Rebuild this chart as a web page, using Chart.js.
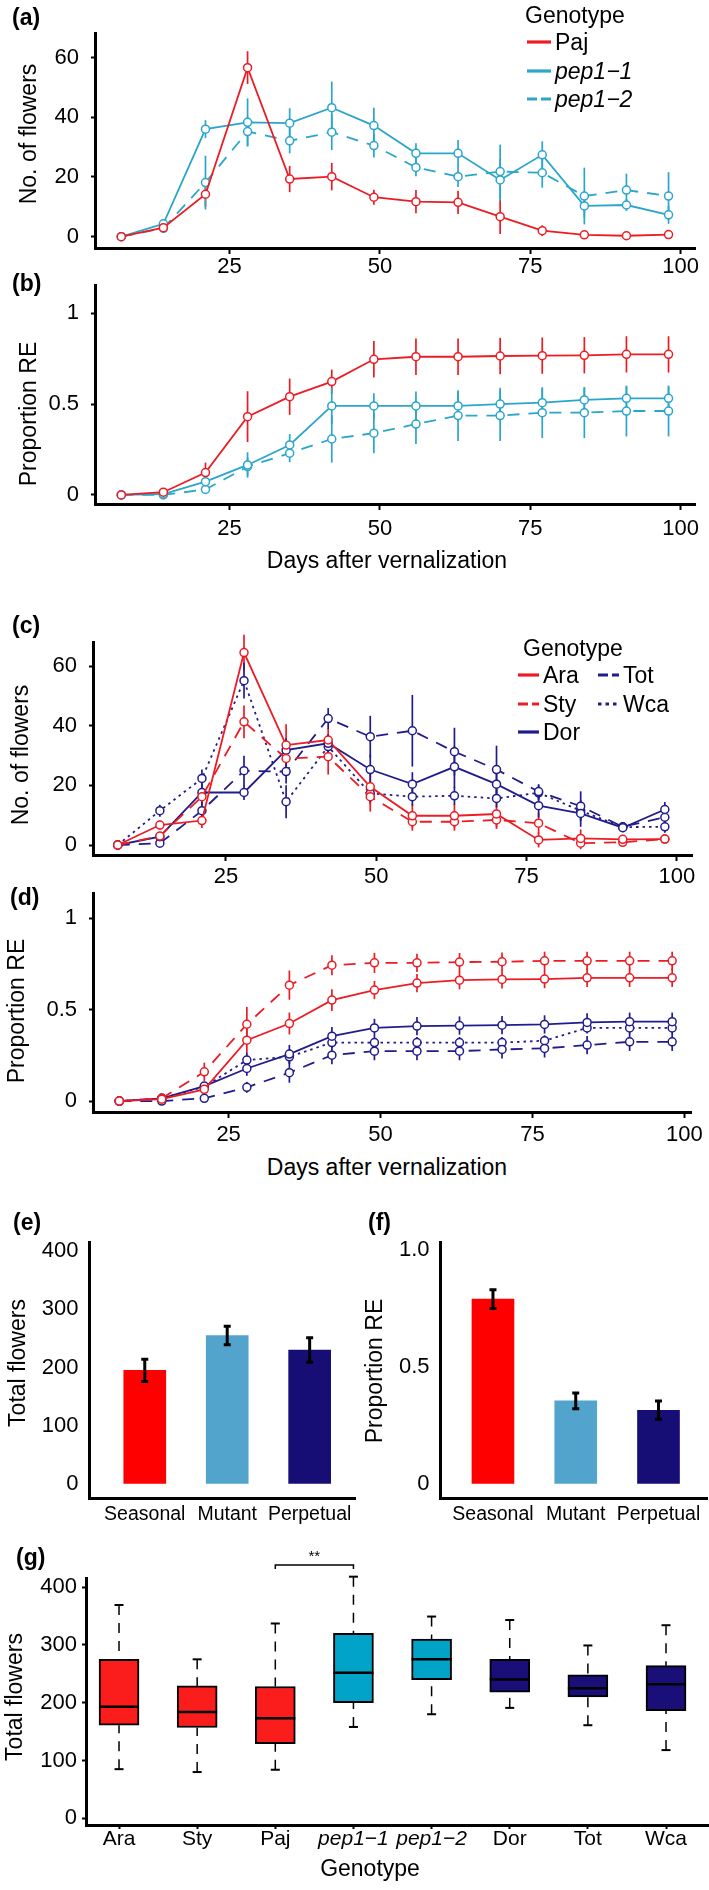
<!DOCTYPE html>
<html>
<head>
<meta charset="utf-8">
<title>Flowering of seasonal, mutant and perpetual genotypes</title>
<script src="https://cdn.jsdelivr.net/npm/chart.js@4.4.1/dist/chart.umd.min.js"></script>
<style>
  html, body { margin: 0; padding: 0; background: #fff; overflow: hidden; }
  #fig { position: relative; width: 709px; height: 1890px; font-family: 'Liberation Sans', Arial, Helvetica, sans-serif; color: #000; }
  #fig canvas { position: absolute; }
  .txt { position: absolute; white-space: nowrap; font-size: 23px; line-height: 26px; }
  .letter { font-weight: bold; }
  .ytitle { transform: translate(-50%, -50%) rotate(-90deg); }
  .xtitle { transform: translate(-50%, -50%); }
</style>
</head>
<body>
<div id="fig"></div>
<script>
// ---- data ----
const days = [7, 14, 21, 28, 35, 42, 49, 56, 63, 70, 77, 84, 91, 98];
const dayTicks = [25, 50, 75, 100];
const flowerTicks = [0, 20, 40, 60];
const propTicks = [0, 0.5, 1];

// (a) flowers per census, seasonal Paj vs pep1 mutants
const pajFlw     = [0, 3, 14.2, 56.6, 19.3, 20.1, 13.2, 11.7, 11.5, 6.7, 2, 0.6, 0.3, 0.7];
const pajFlwSe   = [0.3, 0.6, 4.2, 5.5, 4.4, 4.6, 2.5, 3.9, 3.9, 5.8, 1.8, 1, 0.5, 0.5];
const pep11Flw   = [0, 4.3, 36, 38.3, 38, 43.2, 37.2, 27.9, 27.9, 19, 27.4, 10.3, 10.6, 7.3];
const pep11FlwSe = [0.2, 1, 3, 8, 5, 8.7, 6, 3.4, 4.5, 7, 4.5, 4, 2, 3];
const pep12Flw   = [0, 2.8, 18.1, 35.2, 32.1, 35, 30.5, 23.2, 20.1, 21.8, 21.4, 13.6, 15.6, 13.6];
const pep12FlwSe = [0.2, 1, 9, 5, 4.2, 6, 4, 3, 3.5, 9, 5, 9.5, 5.5, 8];

// (b) proportion RE
const pajRE     = [0, 0.015, 0.123, 0.431, 0.541, 0.624, 0.747, 0.761, 0.761, 0.765, 0.767, 0.769, 0.774, 0.774];
const pajRESe   = [0, 0.01, 0.055, 0.14, 0.1, 0.066, 0.1, 0.1, 0.1, 0.1, 0.1, 0.1, 0.1, 0.1];
const pep11RE   = [0, 0.005, 0.073, 0.165, 0.275, 0.49, 0.49, 0.49, 0.49, 0.5, 0.508, 0.523, 0.532, 0.532];
const pep11RESe = [0, 0.005, 0.02, 0.07, 0.06, 0.1, 0.07, 0.08, 0.08, 0.09, 0.08, 0.07, 0.065, 0.065];
const pep12RE   = [0, 0, 0.03, 0.156, 0.23, 0.308, 0.34, 0.39, 0.437, 0.437, 0.453, 0.453, 0.462, 0.462];
const pep12RESe = [0, 0, 0.02, 0.05, 0.05, 0.13, 0.11, 0.11, 0.14, 0.14, 0.14, 0.14, 0.14, 0.14];

// (c) flowers per census, natural accessions
const araFlw   = [0, 6.7, 8.2, 64.5, 33.5, 35.2, 19.5, 9.8, 9.8, 10.4, 1.7, 2.2, 1.9, 2.0];
const araFlwSe = [0.2, 1.5, 2.5, 6, 7, 4, 6, 4, 4, 4.5, 2.5, 3, 1, 1];
const styFlw   = [0, 3, 16.2, 41.3, 29.0, 29.6, 16.2, 7.8, 7.8, 8.4, 7.3, 0.6, 0.9, 2.0];
const styFlwSe = [0.2, 1, 3, 5.5, 4, 6, 5, 3, 3, 3, 3.5, 2, 1, 1];
const dorFlw   = [0, 2.8, 17.6, 17.6, 31.8, 34.1, 25.3, 20.4, 26.2, 20.4, 13.2, 10.6, 5.8, 11.9];
const dorFlwSe = [0.2, 1, 3, 2.5, 4, 3, 5, 4, 7, 4, 4, 4.5, 1.5, 2.5];
const totFlw   = [0, 0.6, 11.5, 24.9, 24.6, 42.4, 36.3, 38.3, 31.3, 25.3, 17.9, 13, 6.1, 9.3];
const totFlwSe = [0.2, 1, 3, 5, 4, 3.5, 7, 12, 8, 8, 2.5, 5, 1.5, 2];
const wcaFlw   = [0, 11.5, 22.3, 55.1, 14.5, 33, 17.3, 16.2, 16.5, 15.6, 17.5, 11.5, 6, 6.1];
const wcaFlwSe = [0.2, 2, 3, 6, 5.5, 4, 3, 3, 3, 3, 2.5, 3, 1.5, 2];

// (d) proportion RE, natural accessions
const araRE   = [0, 0.01, 0.064, 0.333, 0.424, 0.552, 0.607, 0.645, 0.661, 0.665, 0.667, 0.674, 0.674, 0.674];
const araRESe = [0, 0.01, 0.02, 0.07, 0.06, 0.06, 0.05, 0.05, 0.05, 0.05, 0.05, 0.05, 0.05, 0.05];
const styRE   = [0, 0.015, 0.16, 0.42, 0.634, 0.743, 0.756, 0.756, 0.76, 0.762, 0.767, 0.767, 0.767, 0.767];
const styRESe = [0, 0.01, 0.05, 0.095, 0.08, 0.055, 0.055, 0.05, 0.05, 0.05, 0.05, 0.05, 0.05, 0.05];
const dorRE   = [0, 0.015, 0.082, 0.178, 0.257, 0.355, 0.40, 0.41, 0.413, 0.415, 0.419, 0.43, 0.434, 0.434];
const dorRESe = [0, 0.01, 0.02, 0.04, 0.05, 0.05, 0.05, 0.05, 0.05, 0.05, 0.05, 0.05, 0.05, 0.05];
const totRE   = [0, 0, 0.015, 0.075, 0.155, 0.251, 0.273, 0.273, 0.273, 0.282, 0.288, 0.306, 0.324, 0.324];
const totRESe = [0, 0, 0.02, 0.03, 0.055, 0.05, 0.05, 0.05, 0.05, 0.05, 0.05, 0.05, 0.05, 0.05];
const wcaRE   = [0, 0.015, 0.078, 0.224, 0.242, 0.32, 0.32, 0.32, 0.32, 0.32, 0.33, 0.40, 0.40, 0.40];
const wcaRESe = [0, 0.01, 0.02, 0.04, 0.04, 0.03, 0.03, 0.03, 0.03, 0.03, 0.03, 0.03, 0.03, 0.03];

// (e), (f) group means
const groupNames = ['Seasonal', 'Mutant', 'Perpetual'];
const totalMean = [195, 255, 230];
const totalSe = [19, 16, 21];
const totalTicks = [0, 100, 200, 300, 400];
const reMean = [0.79, 0.355, 0.315];
const reSe = [0.04, 0.034, 0.039];
const reTicks = [0, 0.5, 1];

// (g) total flowers per genotype
const genotypes = ['Ara', 'Sty', 'Paj', 'pep1\u22121', 'pep1\u22122', 'Dor', 'Tot', 'Wca'];
const boxMin = [85, 80, 84, 158, 180, 191, 161, 118];
const boxQ1  = [161, 157, 129, 200, 240, 218, 210, 186];
const boxMed = [193, 184, 173, 252, 275, 240, 225, 232];
const boxQ3  = [275, 229, 228, 320, 310, 275, 248, 264];
const boxMax = [369, 275, 337, 418, 349, 343, 299, 334];
const sigPair = ['Paj', 'pep1\u22121'];
const sigText = '**';

// ---- styling ----
const RED = '#ec1c24', CYAN = '#2aa6ca', NAVY = '#211c8c';
const dashes = { solid: [], dash: [12, 9], dot: [2.5, 4] };
const groupColors = ['#fe0000', '#52a4cc', '#170e75'];
const boxColors = ['#fb1c1c', '#fb1c1c', '#fb1c1c', '#02a3c9', '#02a3c9', '#1a0f78', '#1a0f78', '#1a0f78'];

Chart.defaults.font.family = "'Liberation Sans', Arial, Helvetica, sans-serif";
Chart.defaults.color = '#000';

const fig = document.getElementById('fig');

function makeCanvas(left, top, w, h) {
  const c = document.createElement('canvas');
  c.width = w; c.height = h;
  c.style.left = left + 'px'; c.style.top = top + 'px';
  c.style.width = w + 'px'; c.style.height = h + 'px';
  fig.appendChild(c);
  return c;
}

function addText(t, x, y, cls, extra) {
  const d = document.createElement('div');
  d.className = 'txt ' + (cls || '');
  d.textContent = t;
  d.style.left = x + 'px';
  d.style.top = y + 'px';
  if (extra) Object.assign(d.style, extra);
  fig.appendChild(d);
}

function addKey(x, y, w, col, dasharray) {
  const ns = 'http://www.w3.org/2000/svg';
  const s = document.createElementNS(ns, 'svg');
  s.setAttribute('width', w); s.setAttribute('height', 6);
  s.style.position = 'absolute'; s.style.left = x + 'px'; s.style.top = (y - 3) + 'px';
  const l = document.createElementNS(ns, 'line');
  l.setAttribute('x1', 0); l.setAttribute('y1', 3); l.setAttribute('x2', w); l.setAttribute('y2', 3);
  l.setAttribute('stroke', col); l.setAttribute('stroke-width', 3.2);
  if (dasharray) l.setAttribute('stroke-dasharray', dasharray);
  s.appendChild(l);
  fig.appendChild(s);
}

function axis(o) {
  return {
    type: 'linear', min: o.min, max: o.max, offset: false,
    afterBuildTicks: s => { s.ticks = o.ticks.map(v => ({ value: v })); },
    afterFit: s => { if (s.isHorizontal()) s.height = o.size; else s.width = o.size; },
    border: { display: true, color: '#000', width: 3 },
    grid: { display: true, offset: false, drawOnChartArea: false, drawTicks: o.tl > 0, tickLength: o.tl || 0, tickWidth: 2, tickColor: '#000' },
    ticks: { padding: o.pad, font: o.font || { size: 22 }, color: '#000', autoSkip: false, maxRotation: 0,
             callback: o.fmt || (v => String(v)) }
  };
}

// vertical error bars under the lines
const seBars = {
  id: 'seBars',
  beforeDatasetsDraw(chart) {
    const { ctx, scales: { y } } = chart;
    chart.data.datasets.forEach((ds, di) => {
      const meta = chart.getDatasetMeta(di);
      ctx.save();
      ctx.strokeStyle = ds.borderColor;
      ctx.lineWidth = 1.7;
      meta.data.forEach((pt, i) => {
        const v = ds.data[i].y, e = ds.err[i];
        if (!e) return;
        ctx.beginPath();
        ctx.moveTo(pt.x, y.getPixelForValue(v + e));
        ctx.lineTo(pt.x, y.getPixelForValue(v - e));
        ctx.stroke();
      });
      ctx.restore();
    });
  }
};

// capped error bars on top of the bars
const capBars = {
  id: 'capBars',
  afterDatasetsDraw(chart) {
    const { ctx, scales: { y } } = chart;
    const ds = chart.data.datasets[0];
    const meta = chart.getDatasetMeta(0);
    ctx.save();
    ctx.strokeStyle = '#000';
    ctx.lineWidth = 3;
    meta.data.forEach((bar, i) => {
      const v = ds.data[i].y, e = ds.err[i];
      const t = y.getPixelForValue(v + e), b = y.getPixelForValue(v - e);
      ctx.beginPath();
      ctx.moveTo(bar.x, t); ctx.lineTo(bar.x, b);
      ctx.moveTo(bar.x - 3.5, t); ctx.lineTo(bar.x + 3.5, t);
      ctx.moveTo(bar.x - 3.5, b); ctx.lineTo(bar.x + 3.5, b);
      ctx.stroke();
    });
    ctx.restore();
  }
};

function seg(ctx, x1, y1, x2, y2) {
  ctx.beginPath(); ctx.moveTo(x1, y1); ctx.lineTo(x2, y2); ctx.stroke();
}

// whiskers, caps and medians for the boxes
const boxParts = {
  id: 'boxParts',
  afterDatasetsDraw(chart) {
    const { ctx, scales: { x, y } } = chart;
    const meta = chart.getDatasetMeta(0);
    ctx.save();
    ctx.strokeStyle = '#000';
    ctx.fillStyle = '#000';
    genotypes.forEach((g, i) => {
      const px = meta.data[i].x, hw = meta.data[i].width / 2;
      const yMax = y.getPixelForValue(boxMax[i]), yMin = y.getPixelForValue(boxMin[i]);
      ctx.lineWidth = 1.5;
      ctx.setLineDash([10, 8]);
      seg(ctx, px, yMax, px, y.getPixelForValue(boxQ3[i]));
      seg(ctx, px, yMin, px, y.getPixelForValue(boxQ1[i]));
      ctx.setLineDash([]);
      ctx.lineWidth = 2;
      seg(ctx, px - 4.5, yMax, px + 4.5, yMax);
      seg(ctx, px - 4.5, yMin, px + 4.5, yMin);
      ctx.lineWidth = 2.5;
      const ym = y.getPixelForValue(boxMed[i]);
      seg(ctx, px - hw, ym, px + hw, ym);
    });
    const x1 = x.getPixelForValue(genotypes.indexOf(sigPair[0]) + 1);
    const x2 = x.getPixelForValue(genotypes.indexOf(sigPair[1]) + 1);
    const yb = chart.chartArea.top - 13;
    ctx.lineWidth = 1.5;
    ctx.beginPath();
    ctx.moveTo(x1, yb + 4); ctx.lineTo(x1, yb); ctx.lineTo(x2, yb); ctx.lineTo(x2, yb + 4);
    ctx.stroke();
    ctx.font = "15px 'Liberation Sans', Arial, sans-serif";
    ctx.textAlign = 'center';
    ctx.textBaseline = 'alphabetic';
    ctx.fillText(sigText, (x1 + x2) / 2, yb - 4);
    ctx.restore();
  }
};

function linePanel(p, series) {
  const c = makeCanvas(0, p.top, 709, p.h);
  new Chart(c, {
    type: 'line',
    data: {
      datasets: series.map(s => ({
        label: s.name,
        data: days.map((d, i) => ({ x: d, y: s.v[i] })),
        err: s.e,
        borderColor: s.col, borderWidth: 1.8, borderDash: dashes[s.key], fill: false, tension: 0,
        pointRadius: 4, pointHoverRadius: 4, pointBorderWidth: 1.5,
        pointBackgroundColor: '#fff', pointBorderColor: s.col
      }))
    },
    options: {
      responsive: false, animation: false, events: [],
      layout: { padding: { top: p.areaTop - p.top, right: 709 - p.right, left: 0, bottom: 0 } },
      plugins: { legend: { display: false }, tooltip: { enabled: false } },
      scales: {
        x: axis({ min: p.x[0], max: p.x[1], ticks: dayTicks, size: p.top + p.h - p.bottom, tl: 6, pad: p.xpad }),
        y: axis({ min: p.y[0], max: p.y[1], ticks: p.yTicks, size: p.left, tl: 4, pad: 12 })
      }
    },
    plugins: [seBars]
  });
}

function barPanel(p, means, ses, yTicks, yFmt) {
  const c = makeCanvas(p.cl, p.top, p.w, p.h);
  new Chart(c, {
    type: 'bar',
    data: {
      datasets: [{
        data: means.map((v, i) => ({ x: i + 1, y: v })),
        err: ses,
        backgroundColor: groupColors, borderWidth: 0, barThickness: 42
      }]
    },
    options: {
      responsive: false, animation: false, events: [],
      layout: { padding: { top: p.areaTop - p.top, right: p.cl + p.w - p.right, left: 0, bottom: 0 } },
      plugins: { legend: { display: false }, tooltip: { enabled: false } },
      scales: {
        x: axis({ min: p.x[0], max: p.x[1], ticks: [1, 2, 3], size: p.top + p.h - p.bottom, tl: 0, pad: 5,
                  font: { size: 19.5 }, fmt: v => groupNames[v - 1] }),
        y: axis({ min: p.y[0], max: p.y[1], ticks: yTicks, size: p.left - p.cl, tl: 0, pad: 10.5, fmt: yFmt })
      }
    },
    plugins: [capBars]
  });
}

// ---- (a) ----
const seriesA = [
  { name: 'Paj', col: RED, key: 'solid', v: pajFlw, e: pajFlwSe },
  { name: 'pep1\u22121', col: CYAN, key: 'solid', v: pep11Flw, e: pep11FlwSe },
  { name: 'pep1\u22122', col: CYAN, key: 'dash', v: pep12Flw, e: pep12FlwSe }
];
linePanel({ top: 0, h: 290, areaTop: 33, bottom: 248, left: 95, right: 695, x: [2.63, 102.4], y: [-3.8, 68.2],
            yTicks: flowerTicks, xpad: 0 }, seriesA);

// ---- (b) ----
linePanel({ top: 255, h: 305, areaTop: 285, bottom: 504, left: 95, right: 695, x: [2.63, 102.4], y: [-0.05, 1.156],
            yTicks: propTicks, xpad: 6 }, [
  { name: 'Paj', col: RED, key: 'solid', v: pajRE, e: pajRESe },
  { name: 'pep1\u22121', col: CYAN, key: 'solid', v: pep11RE, e: pep11RESe },
  { name: 'pep1\u22122', col: CYAN, key: 'dash', v: pep12RE, e: pep12RESe }
]);

// ---- (c) ----
const seriesC = [
  { name: 'Ara', col: RED, key: 'solid', v: araFlw, e: araFlwSe },
  { name: 'Sty', col: RED, key: 'dash', v: styFlw, e: styFlwSe },
  { name: 'Dor', col: NAVY, key: 'solid', v: dorFlw, e: dorFlwSe },
  { name: 'Tot', col: NAVY, key: 'dash', v: totFlw, e: totFlwSe },
  { name: 'Wca', col: NAVY, key: 'dot', v: wcaFlw, e: wcaFlwSe }
];
linePanel({ top: 600, h: 290, areaTop: 642, bottom: 855, left: 93, right: 692.5, x: [2.88, 102.6], y: [-3.35, 68.05],
            yTicks: flowerTicks, xpad: 3 }, seriesC);

// ---- (d) ----
linePanel({ top: 860, h: 290, areaTop: 893, bottom: 1112, left: 93, right: 691, x: [2.68, 101.1], y: [-0.06, 1.138],
            yTicks: propTicks, xpad: 4 }, [
  { name: 'Ara', col: RED, key: 'solid', v: araRE, e: araRESe },
  { name: 'Sty', col: RED, key: 'dash', v: styRE, e: styRESe },
  { name: 'Dor', col: NAVY, key: 'solid', v: dorRE, e: dorRESe },
  { name: 'Tot', col: NAVY, key: 'dash', v: totRE, e: totRESe },
  { name: 'Wca', col: NAVY, key: 'dot', v: wcaRE, e: wcaRESe }
]);

// ---- (e), (f) ----
barPanel({ cl: 0, top: 1200, w: 365, h: 330, areaTop: 1242, bottom: 1498, left: 89, right: 355,
           x: [0.3236, 3.55], y: [-24, 415.5] }, totalMean, totalSe, totalTicks);
barPanel({ cl: 350, top: 1200, w: 359, h: 330, areaTop: 1242, bottom: 1498, left: 440, right: 707,
           x: [0.36, 3.586], y: [-0.06, 1.034] }, reMean, reSe, reTicks, v => v === 0 ? '0' : v.toFixed(1));

// ---- (g) ----
(function () {
  const top = 1540, h = 320;
  const c = makeCanvas(0, top, 709, h);
  new Chart(c, {
    type: 'bar',
    data: {
      datasets: [{
        data: genotypes.map((g, i) => ({ x: i + 1, y: [boxQ1[i], boxQ3[i]] })),
        backgroundColor: boxColors, borderColor: '#000', borderWidth: 2, borderSkipped: false, barThickness: 40
      }]
    },
    options: {
      responsive: false, animation: false, events: [],
      layout: { padding: { top: 1578 - top, right: 0, left: 0, bottom: 0 } },
      plugins: { legend: { display: false }, tooltip: { enabled: false } },
      scales: {
        x: axis({ min: 0.5775, max: 8.55, ticks: [1, 2, 3, 4, 5, 6, 7, 8], size: top + h - 1825, tl: 4, pad: -2,
                  fmt: v => genotypes[v - 1],
                  font: ctx => ({ size: 21, style: (ctx.tick && genotypes[ctx.tick.value - 1].startsWith('pep')) ? 'italic' : 'normal' }) }),
        y: axis({ min: -11.6, max: 415.7, ticks: totalTicks, size: 86, tl: 4, pad: 5 })
      }
    },
    plugins: [boxParts]
  });
})();

// ---- text: panel letters, axis titles, legends ----
[['(a)', 12, 17], ['(b)', 12, 283], ['(c)', 12, 625], ['(d)', 10, 897],
 ['(e)', 13, 1222], ['(f)', 368, 1222], ['(g)', 16, 1557]].forEach(([t, x, y]) => addText(t, x, y - 13, 'letter'));

[['No. of flowers', 28, 134], ['Proportion RE', 28, 414], ['No. of flowers', 20, 755], ['Proportion RE', 16, 1011],
 ['Total flowers', 17, 1363], ['Proportion RE', 374, 1371], ['Total flowers', 14, 1697]]
  .forEach(([t, x, y]) => addText(t, x, y, 'ytitle'));

[['Days after vernalization', 387, 560], ['Days after vernalization', 387, 1167], ['Genotype', 370, 1868]]
  .forEach(([t, x, y]) => addText(t, x, y, 'xtitle'));

const keyDash = { solid: null, dash: '10 4', dot: '3.5 4' };
function legendEntry(s, x, y, w) {
  addKey(x, y, w, s.col, keyDash[s.key]);
  addText(s.name, x + w + 4, y - 13, '', { fontStyle: s.name.startsWith('pep') ? 'italic' : 'normal' });
}
addText('Genotype', 525, 15 - 13);
seriesA.forEach((s, i) => legendEntry(s, 527, [42, 71, 99][i], 24));
addText('Genotype', 523, 648 - 13);
seriesC.forEach((s, i) => {
  const col = i < 3 ? 0 : 1, row = i < 3 ? i : i - 3;
  legendEntry(s, col ? 598 : 518, [675, 704, 732][row], 21);
});
</script>
</body>
</html>
